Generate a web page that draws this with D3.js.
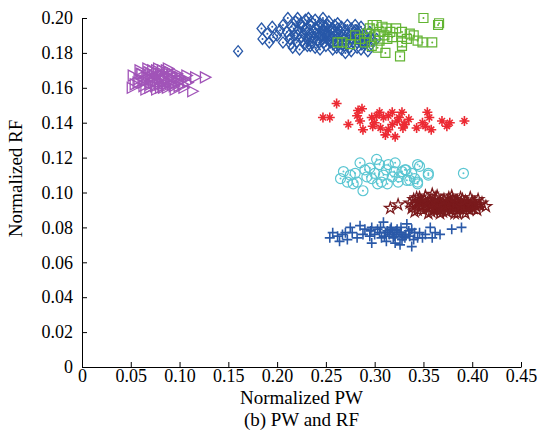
<!DOCTYPE html>
<html>
<head>
<meta charset="utf-8">
<script src="https://cdn.jsdelivr.net/npm/d3@7"></script>
<style>
  body { margin: 0; background: #fff; }
  svg text { font-family: "Liberation Serif", "Times New Roman", serif; fill: #000; }
  .axis path, .axis line { stroke: #000; stroke-width: 1; }
</style>
</head>
<body>
<svg id="chart"></svg>
<script>
// values, [PW, RF]
var purpleTri = [[.052,.167],[.054,.162],[.051,.160],[.065,.159],[.072,.170],[.082,.170],[.092,.168],[.100,.166],[.116,.166],[.126,.166],[.113,.158],[.083,.160],
  [.058,.165],[.060,.168],[.062,.163],[.066,.166],[.068,.169],[.070,.162],[.071,.165],[.074,.167],[.075,.161],[.077,.164],[.078,.168],[.079,.162],[.081,.166],[.084,.164],[.085,.167],[.086,.162],[.088,.165],[.089,.169],[.090,.163],[.093,.165],[.094,.161],[.096,.166],[.098,.163],[.101,.164],[.103,.162],[.105,.165],[.063,.161],[.069,.160],[.076,.159],[.087,.160],[.095,.159],[.057,.163],[.108,.163],[.067,.171],[.078,.171],[.088,.171],[.061,.168],
  [.064,.164],[.072,.166],[.080,.168],[.091,.166],[.097,.168],[.099,.161],[.082,.162],[.073,.163],[.086,.170],[.059,.170],[.107,.167],[.104,.160],[.070,.168],[.092,.162],[.080,.160],[.076,.170]];

var blueDiamond = [[.160,.181],[.184,.194],[.195,.195],[.196,.189],[.206,.196],[.211,.200],[.221,.200],[.232,.200],[.247,.200],[.262,.197],[.280,.196],[.206,.186],[.216,.183],[.234,.184],[.244,.182],[.261,.183],[.270,.180],[.282,.183],[.185,.188],[.190,.191],[.192,.186],[.200,.190],[.203,.193],
  [.210,.192],[.213,.188],[.215,.195],[.218,.190],[.220,.186],[.222,.193],[.224,.197],[.225,.189],[.227,.191],[.228,.185],[.230,.194],[.231,.188],[.233,.191],[.234,.196],[.236,.186],[.237,.192],[.238,.189],[.240,.194],[.241,.187],[.242,.191],[.244,.197],[.245,.189],[.246,.193],[.248,.186],[.249,.191],[.250,.195],[.251,.188],[.252,.192],[.254,.190],[.255,.186],[.256,.194],[.257,.189],[.258,.192],[.260,.187],[.261,.191],[.262,.194],[.264,.188],[.265,.192],[.267,.185],[.268,.190],[.270,.193],[.271,.187],[.273,.191],[.275,.188],[.276,.194],[.278,.186],[.280,.190],[.283,.188],[.285,.192],[.288,.187],[.290,.185],[.292,.189],[.295,.184],[.298,.187],
  [.219,.198],[.229,.199],[.239,.199],[.253,.198],[.214,.185],[.223,.182],[.239,.183],[.250,.184],[.257,.182],[.266,.182],[.276,.181],[.286,.182],[.293,.181],[.226,.195],[.243,.195],[.259,.196],[.272,.196],[.286,.195],[.212,.190],[.232,.187],[.247,.188],[.263,.185],[.279,.192],[.282,.186],[.289,.190],[.302,.188],[.295,.192],
  [.217,.194],[.221,.190],[.226,.187],[.229,.193],[.235,.189],[.239,.191],[.243,.186],[.247,.196],[.250,.190],[.253,.187],[.255,.193],[.259,.190],[.263,.191],[.266,.195],[.269,.188],[.274,.190],[.277,.188],[.281,.193],[.284,.190],[.287,.185],[.291,.187],[.296,.189],[.235,.198],[.248,.193],[.231,.184],[.258,.185],[.269,.184],[.274,.183],[.244,.190],[.252,.196]];

var greenSquare = [[.350,.200],[.365,.196],[.302,.196],[.308,.195],[.295,.194],[.316,.192],[.328,.192],[.336,.191],[.344,.187],[.349,.186],[.359,.186],[.328,.186],[.328,.184],[.313,.188],[.297,.184],[.311,.180],[.326,.178],[.262,.186],[.280,.190],[.285,.188],[.290,.186],[.300,.190],[.305,.192],[.310,.190],[.318,.189],[.322,.194],[.305,.187],[.298,.196],[.312,.194],[.267,.186],[.340,.190],[.333,.188],[.292,.191],[.275,.185],[.303,.183],[.366,.197]];

var redStar = [[.261,.151],[.247,.143],[.254,.143],[.283,.147],[.287,.148],[.282,.144],[.285,.141],[.273,.139],[.288,.136],[.297,.143],[.298,.138],[.305,.146],[.309,.143],[.314,.144],[.323,.141],[.328,.146],[.331,.139],[.314,.136],[.311,.133],[.321,.132],
  [.354,.146],[.356,.143],[.349,.140],[.352,.138],[.343,.137],[.330,.139],[.329,.137],[.358,.136],[.369,.141],[.374,.138],[.377,.140],[.392,.141],
  [.300,.140],[.302,.144],[.318,.146],[.325,.143],[.335,.142],[.318,.139],[.306,.137]];

var cyanCircle = [[.272,.106],[.275,.110],[.280,.111],[.285,.117],[.288,.101],[.292,.109],[.297,.108],[.302,.119],[.305,.116],[.309,.110],[.314,.116],[.318,.109],[.321,.117],[.324,.106],[.328,.112],[.331,.113],[.336,.107],[.344,.116],[.344,.106],[.355,.110],[.303,.105],[.295,.114],[.282,.106],[.313,.105],
  [.346,.115],[.355,.111],[.391,.111],[.332,.113],[.341,.108],[.344,.105],[.333,.107],
  [.265,.108],[.268,.112],[.278,.105],[.290,.113],[.300,.111],[.307,.106],[.312,.113],[.320,.112],[.325,.109],[.338,.111]];

var darkRedPent = [[.316,.091],[.324,.093],[.346,.097],[.359,.099],[.382,.088],[.408,.093],[.414,.092],
  [.336,.094],[.338,.091],[.340,.096],[.342,.093],[.344,.090],[.345,.095],[.347,.092],[.349,.094],[.350,.090],[.351,.096],[.353,.092],[.354,.094],[.356,.091],[.357,.095],[.358,.093],[.360,.090],[.361,.094],[.362,.092],[.363,.096],[.365,.091],[.366,.093],[.367,.095],[.368,.090],[.369,.092],[.370,.094],[.371,.096],[.372,.091],[.373,.093],[.374,.089],[.375,.095],[.376,.092],[.377,.094],[.378,.090],[.379,.093],[.380,.096],[.381,.091],[.382,.094],[.383,.092],[.384,.090],[.385,.095],[.386,.093],[.387,.091],[.388,.094],[.389,.092],[.390,.096],[.391,.090],[.392,.093],[.393,.095],[.394,.091],[.395,.094],[.396,.092],[.397,.090],[.398,.093],[.400,.095],[.401,.091],[.402,.094],[.404,.092],[.405,.090],[.406,.096],
  [.352,.098],[.364,.098],[.376,.097],[.388,.097],[.341,.089],[.355,.088],[.367,.088],[.393,.088],[.398,.097],[.410,.094],[.343,.097],[.358,.089],[.362,.097],[.370,.089],[.379,.098],[.385,.088],[.339,.093],
  [.348,.092],[.352,.094],[.357,.093],[.361,.091],[.366,.094],[.371,.092],[.375,.093],[.380,.092],[.384,.094],[.389,.093],[.394,.093],[.399,.092],[.403,.093],[.407,.093],[.346,.094],[.364,.090],[.378,.095],[.392,.092]];

var bluePlus = [[.254,.074],[.257,.077],[.264,.072],[.267,.076],[.270,.077],[.275,.080],[.277,.077],[.285,.081],[.288,.076],[.290,.079],[.297,.071],[.297,.080],[.300,.076],[.303,.079],[.309,.083],[.307,.074],[.311,.077],[.316,.079],[.319,.074],[.321,.071],[.323,.079],[.326,.070],[.331,.074],[.333,.082],[.338,.069],[.338,.079],[.341,.077],[.344,.074],[.349,.074],[.357,.080],[.359,.074],[.367,.076],[.379,.079],
  [.305,.077],[.310,.075],[.313,.078],[.315,.076],[.318,.077],[.320,.075],[.322,.078],[.325,.076],[.327,.077],[.329,.075],[.332,.076],[.335,.078],[.312,.072],[.328,.073],[.336,.075],[.295,.075],[.282,.074],[.272,.073],[.262,.075],[.340,.073],[.346,.077],[.352,.076],[.362,.077],[.296,.078],[.306,.080],[.317,.080],[.327,.080],[.389,.080]];

var xTicks = [0, 0.05, 0.10, 0.15, 0.20, 0.25, 0.30, 0.35, 0.40, 0.45];
var yTicks = [0, 0.02, 0.04, 0.06, 0.08, 0.10, 0.12, 0.14, 0.16, 0.18, 0.20];

var margin = { top: 18, right: 21, bottom: 67, left: 82 },
  width = 542 - margin.left - margin.right,
  height = 434 - margin.top - margin.bottom;

var root = d3.select("#chart")
  .attr("width", 542)
  .attr("height", 434);

var svg = root.append("g")
  .attr("transform", "translate(" + margin.left + "," + margin.top + ")");

var x = d3.scaleLinear().domain([0, 0.45]).range([0, width]);
var y = d3.scaleLinear().domain([0, 0.20]).range([height, 0]);

var fmt = d => d === 0 ? "0" : d3.format(".2f")(d);

// marker shapes (matlab style)
var shapes = {
  tri: "M-4.5,-5.5L6,0L-4.5,5.5Z",
  diamond: "M0,-5.5L4.5,0L0,5.5L-4.5,0Z",
  square: "M-4.5,-4.5H4.5V4.5H-4.5Z",
  circle: "M5,0A5,5 0 1,1 -5,0A5,5 0 1,1 5,0Z",
  star: "M-5,0H5M0,-5V5M-3,-3L3,3M-3,3L3,-3",
  pent: d3.symbol().type(d3.symbolStar).size(40)(),
  plus: "M-5,0H5M0,-5V5"
};

function drawSeries(data, shape, color, dot, sw) {
  var g = svg.append("g");
  var pts = g.selectAll("g")
    .data(data)
    .enter()
    .append("g")
    .attr("transform", d => "translate(" + x(d[0]) + "," + y(d[1]) + ")");
  pts.append("path")
    .attr("d", shapes[shape])
    .attr("fill", "none")
    .attr("stroke", color)
    .attr("stroke-width", sw);
  if (dot) {
    pts.append("circle")
      .attr("r", 1)
      .attr("fill", color);
  }
}

drawSeries(purpleTri, "tri", "#a154b8", false, 1.3);
drawSeries(blueDiamond, "diamond", "#2858a8", true, 1.3);
drawSeries(greenSquare, "square", "#62b432", true, 1.2);
drawSeries(redStar, "star", "#ec2a33", false, 1.6);
drawSeries(cyanCircle, "circle", "#5ac6d2", true, 1.2);
drawSeries(darkRedPent, "pent", "#7a1a1c", false, 1.3);
drawSeries(bluePlus, "plus", "#2a59a8", false, 1.6);

// axes, inward ticks
svg.append("g")
  .attr("class", "axis")
  .call(d3.axisLeft(y).tickValues(yTicks).tickFormat(fmt).tickSizeInner(-5).tickSizeOuter(0).tickPadding(9))
  .selectAll("text").style("font-size", "18px");

svg.append("g")
  .attr("class", "axis")
  .attr("transform", "translate(0," + height + ")")
  .call(d3.axisBottom(x).tickValues(xTicks).tickFormat(fmt).tickSizeInner(-5).tickSizeOuter(0).tickPadding(2))
  .selectAll("text").style("font-size", "18px");

svg.selectAll(".axis text").attr("font-family", null);

svg.append("text")
  .attr("x", width / 2)
  .attr("y", height + 37)
  .style("text-anchor", "middle")
  .style("font-size", "19px")
  .text("Normalized PW");

svg.append("text")
  .attr("x", width / 2)
  .attr("y", height + 59)
  .style("text-anchor", "middle")
  .style("font-size", "19px")
  .text("(b) PW and RF");

svg.append("text")
  .attr("transform", "rotate(-90)")
  .attr("x", -(height / 2) + 14)
  .attr("y", -60)
  .style("text-anchor", "middle")
  .style("font-size", "19px")
  .text("Normalized RF");
</script>
</body>
</html>
